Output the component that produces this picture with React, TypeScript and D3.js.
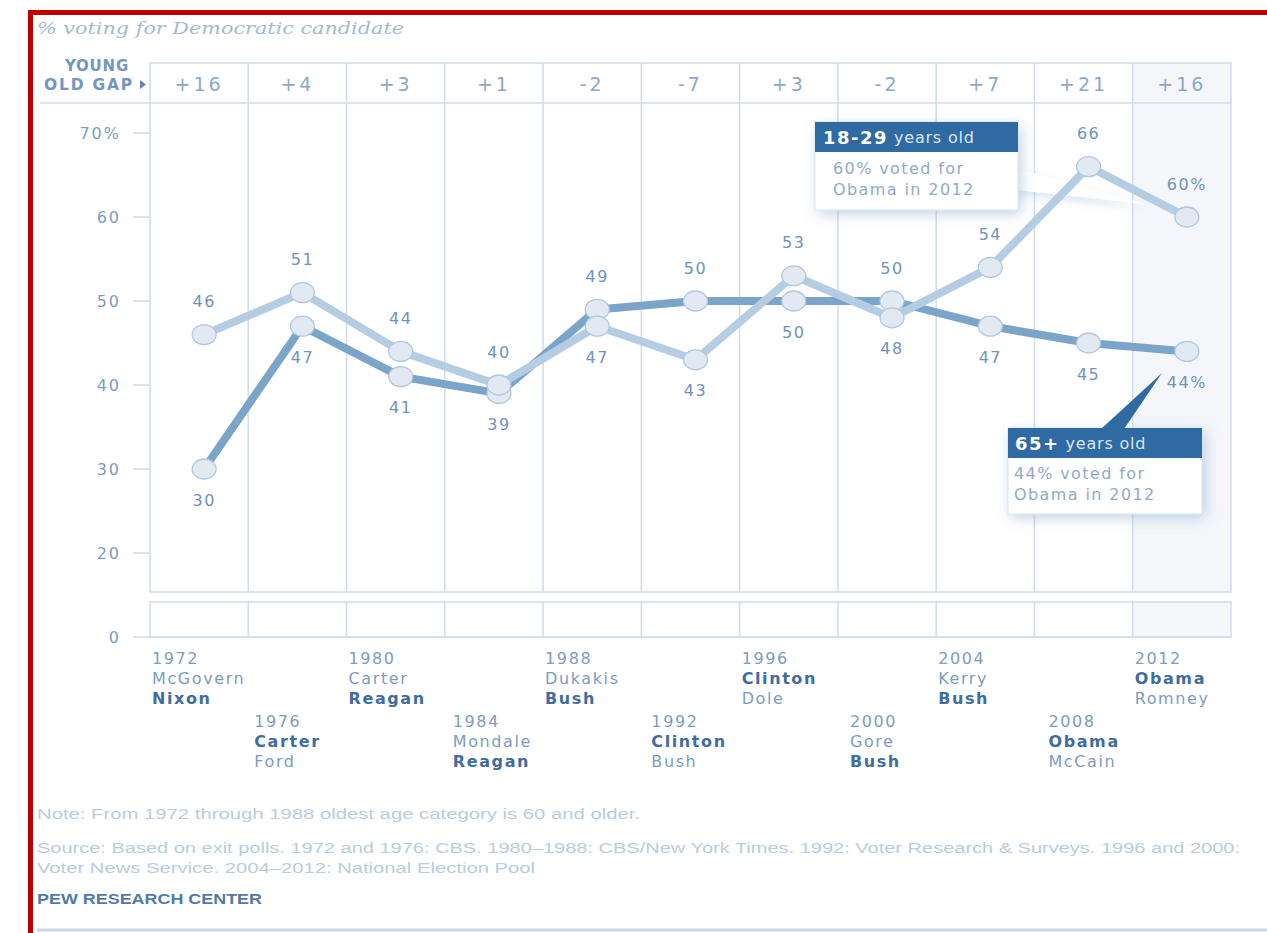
import React from 'react';
import * as d3 from 'd3';

const years = ['1972', '1976', '1980', '1984', '1988', '1992', '1996', '2000', '2004', '2008', '2012'];
const young = [46, 51, 44, 40, 47, 43, 53, 48, 54, 66, 60];
const old = [30, 47, 41, 39, 49, 50, 50, 50, 47, 45, 44];
const gapLabels = ['+16', '+4', '+3', '+1', '-2', '-7', '+3', '-2', '+7', '+21', '+16'];
// label placement: 1 = above the point, -1 = below
const youngSide = [1, 1, 1, 1, -1, -1, 1, -1, 1, 1, 1];
const oldSide = [-1, -1, -1, -1, 1, 1, -1, 1, -1, -1, -1];
const dem = ['McGovern', 'Carter', 'Carter', 'Mondale', 'Dukakis', 'Clinton', 'Clinton', 'Gore', 'Kerry', 'Obama', 'Obama'];
const rep = ['Nixon', 'Ford', 'Reagan', 'Reagan', 'Bush', 'Bush', 'Dole', 'Bush', 'Bush', 'McCain', 'Romney'];
const winner = ['R', 'D', 'R', 'R', 'R', 'D', 'D', 'R', 'R', 'D', 'D'];
const yTicks = [70, 60, 50, 40, 30, 20];

const FONT = '"DejaVu Sans", Verdana, sans-serif';
const NARROW = '"Liberation Sans Narrow", "Liberation Sans", Arial, sans-serif';

export default function App() {
  const W = 1267, H = 933;
  const left = 150, right = 1231;
  const headTop = 63, headBot = 103, plotBot = 592, zeroTop = 602, zeroY = 637;

  const x = d3.scaleBand().domain(years).range([left, right]);
  const px = (yr: string) => x(yr)! + x.bandwidth() / 2 + 5;
  const y = d3.scaleLinear().domain([20, 70]).range([553, 133]);

  const line = d3.line<number>().x((_, i) => px(years[i])).y(d => y(d));

  const gridC = '#d2deeb';
  const tickC = '#7c9dc3';
  const dark = '#7ba4c9';
  const light = '#b5cde3';

  const labels = (vals: number[], side: number[], last: string) =>
    vals.map((v, i) => (
      <text key={'l' + i + last} x={px(years[i])} y={y(v) - side[i] * (side[i] > 0 ? 33 : 31)}
        textAnchor="middle" dominantBaseline="central" fontSize={16} letterSpacing={1.5}
        fill="#6f93bd" fontFamily={FONT}>
        {v}{i === vals.length - 1 ? '%' : ''}
      </text>
    ));

  return (
    <div style={{ position: 'absolute', left: 0, top: 0 }}>
      <svg width={W} height={H} style={{ display: 'block', background: '#fff' }}>
        <defs>
          <filter id="glow" x="-30%" y="-40%" width="160%" height="180%">
            <feDropShadow dx="3" dy="4" stdDeviation="7" floodColor="#8eaed2" floodOpacity="0.55" />
          </filter>
          <filter id="soft" x="-20%" y="-100%" width="140%" height="300%">
            <feDropShadow dx="0" dy="4" stdDeviation="5" floodColor="#9fbbd9" floodOpacity="0.4" />
          </filter>
        </defs>

        {/* red frame */}
        <rect x={30.5} y={12.5} width={W} height={H} fill="none" stroke="#c00000" strokeWidth={5} />

        <text x={37} y={34} fontFamily='"DejaVu Serif", "Liberation Serif", serif' fontStyle="italic"
          fontSize={17} fill="#a3bad5" textLength={367} lengthAdjust="spacingAndGlyphs">
          % voting for Democratic candidate
        </text>

        {/* shaded 2012 column */}
        <rect x={x('2012')} y={headTop} width={x.bandwidth()} height={plotBot - headTop} fill="#f4f6fa" />
        <rect x={x('2012')} y={zeroTop} width={x.bandwidth()} height={zeroY - zeroTop} fill="#f4f6fa" />

        {/* boxes */}
        <rect x={left} y={headTop} width={right - left} height={plotBot - headTop} fill="none" stroke={gridC} strokeWidth={1.6} />
        <rect x={left} y={zeroTop} width={right - left} height={zeroY - zeroTop} fill="none" stroke={gridC} strokeWidth={1.6} />
        <line x1={40} x2={right} y1={headBot} y2={headBot} stroke={gridC} strokeWidth={1.6} />
        <line x1={133} x2={right} y1={zeroY} y2={zeroY} stroke={gridC} strokeWidth={1.6} />
        {years.slice(1).map(yr => (
          <g key={'v' + yr}>
            <line x1={x(yr)} x2={x(yr)} y1={headTop} y2={plotBot} stroke={gridC} strokeWidth={1.6} />
            <line x1={x(yr)} x2={x(yr)} y1={zeroTop} y2={zeroY} stroke={gridC} strokeWidth={1.6} />
          </g>
        ))}

        {/* gap header */}
        <text x={129} y={66} textAnchor="end" dominantBaseline="central" fontFamily={FONT} fontWeight="bold" fontSize={15} letterSpacing={0.8} fill="#7296bf">YOUNG</text>
        <text x={134} y={85} textAnchor="end" dominantBaseline="central" fontFamily={FONT} fontWeight="bold" fontSize={15.5} letterSpacing={1.8} fill="#7296bf">OLD GAP</text>
        <path d="M140,80 L146,84.5 L140,89 Z" fill="#5f86b4" />
        {gapLabels.map((g, i) => (
          <text key={'g' + i} x={x(years[i])! + x.bandwidth() / 2} y={(headTop + headBot) / 2 + 1}
            textAnchor="middle" dominantBaseline="central" fontFamily={FONT} fontSize={19}
            letterSpacing={3} fill="#8ca8c8">{g}</text>
        ))}

        {/* y axis */}
        {yTicks.map(t => (
          <g key={'t' + t}>
            <line x1={133} x2={left} y1={y(t)} y2={y(t)} stroke={gridC} strokeWidth={1.6} />
            <text x={121} y={y(t)} textAnchor="end" dominantBaseline="central" fontFamily={FONT}
              fontSize={16} letterSpacing={2} fill={tickC}>{t}{t === 70 ? '%' : ''}</text>
          </g>
        ))}
        <text x={121} y={zeroY} textAnchor="end" dominantBaseline="central" fontFamily={FONT}
          fontSize={16} letterSpacing={2} fill={tickC}>0</text>

        {/* 18-29 callout pointer sits under the lines */}
        <polygon points="1016,168 1016,190 1145,204" fill="#fff" filter="url(#soft)" />

        {/* lines */}
        <path d={line(old)!} fill="none" stroke={dark} strokeWidth={8} strokeLinejoin="round" />
        <path d={line(young)!} fill="none" stroke={light} strokeWidth={8} strokeLinejoin="round" />
        {old.map((v, i) => (
          <ellipse key={'o' + i} cx={px(years[i])} cy={y(v)} rx={12} ry={10} fill="#e1e9f3" stroke="#b3c8de" strokeWidth={1.3} />
        ))}
        {young.map((v, i) => (
          <ellipse key={'y' + i} cx={px(years[i])} cy={y(v)} rx={12} ry={10} fill="#e1e9f3" stroke="#b3c8de" strokeWidth={1.3} />
        ))}
        {labels(young, youngSide, 'y')}
        {labels(old, oldSide, 'o')}

        {/* 18-29 callout */}
        <g>
          <rect x={815} y={122} width={203} height={88} fill="#fff" filter="url(#glow)" />
          <rect x={815} y={122} width={203} height={88} fill="#fff" stroke="#dce6f0" strokeWidth={1} />
          <rect x={815} y={122} width={203} height={30} fill="#2f6aa3" />
          <text x={823} y={137} dominantBaseline="central" fontFamily={FONT} fill="#fff">
            <tspan fontWeight="bold" fontSize={18} letterSpacing={1.5}>18-29</tspan>
            <tspan fontSize={16} letterSpacing={0.8} fill="#dbe6f2"> years old</tspan>
          </text>
          <text x={833} y={168} dominantBaseline="central" fontFamily={FONT} fontSize={16} letterSpacing={1.4} fill="#8fabcb">60% voted for</text>
          <text x={833} y={189} dominantBaseline="central" fontFamily={FONT} fontSize={16} letterSpacing={1.4} fill="#8fabcb">Obama in 2012</text>
        </g>

        {/* 65+ callout */}
        <g>
          <rect x={1008} y={428} width={194} height={86} fill="#fff" filter="url(#glow)" />
          <rect x={1008} y={428} width={194} height={86} fill="#fff" stroke="#dce6f0" strokeWidth={1} />
          <polygon points="1101,429 1124,429 1162,373" fill="#2f6aa3" />
          <rect x={1008} y={428} width={194} height={30} fill="#2f6aa3" />
          <text x={1015} y={443} dominantBaseline="central" fontFamily={FONT} fill="#fff">
            <tspan fontWeight="bold" fontSize={18} letterSpacing={1.5}>65+</tspan>
            <tspan fontSize={16} letterSpacing={0.8} fill="#dbe6f2"> years old</tspan>
          </text>
          <text x={1014} y={473} dominantBaseline="central" fontFamily={FONT} fontSize={16} letterSpacing={1.4} fill="#8fabcb">44% voted for</text>
          <text x={1014} y={494} dominantBaseline="central" fontFamily={FONT} fontSize={16} letterSpacing={1.4} fill="#8fabcb">Obama in 2012</text>
        </g>

        {/* election labels: Democrat listed first, winner in bold */}
        {years.map((yr, i) => {
          const top = i % 2 === 0 ? 658 : 721;
          const lx = x(yr)! + (i % 2 === 0 ? 2 : 5 + i);
          const dWin = winner[i] === 'D';
          const rows = [dem[i], rep[i]];
          const bold = [dWin, !dWin];
          return (
            <g key={'e' + yr} fontFamily={FONT} fontSize={16} letterSpacing={1.6}>
              <text x={lx} y={top} dominantBaseline="central" fill="#7d9cc2">{yr}</text>
              {rows.map((n, k) => (
                <text key={k} x={lx} y={top + 20 * (k + 1)} dominantBaseline="central"
                  fontWeight={bold[k] ? 'bold' : 'normal'} fill={bold[k] ? '#3f6d9f' : '#7d9cc2'}>{n}</text>
              ))}
            </g>
          );
        })}

        {/* notes */}
        <text x={37} y={814} dominantBaseline="central" fontFamily={NARROW} fontSize={14} fill="#b8cce2"
          textLength={603} lengthAdjust="spacingAndGlyphs">
          Note: From 1972 through 1988 oldest age category is 60 and older.
        </text>
        <text x={37} y={848} dominantBaseline="central" fontFamily={NARROW} fontSize={14} fill="#b8cce2"
          textLength={1203} lengthAdjust="spacingAndGlyphs">
          Source: Based on exit polls. 1972 and 1976: CBS. 1980–1988:  CBS/New York Times. 1992: Voter Research &amp; Surveys. 1996 and 2000:
        </text>
        <text x={37} y={868} dominantBaseline="central" fontFamily={NARROW} fontSize={14} fill="#b8cce2"
          textLength={498} lengthAdjust="spacingAndGlyphs">
          Voter News Service. 2004–2012: National Election Pool
        </text>
        <text x={37} y={899} dominantBaseline="central" fontFamily={NARROW} fontSize={14.5} fontWeight="bold" fill="#527aa9"
          textLength={225} lengthAdjust="spacingAndGlyphs">
          PEW RESEARCH CENTER
        </text>
        <line x1={37} x2={W} y1={930} y2={930} stroke="#c6d6e7" strokeWidth={3} />
      </svg>
    </div>
  );
}
